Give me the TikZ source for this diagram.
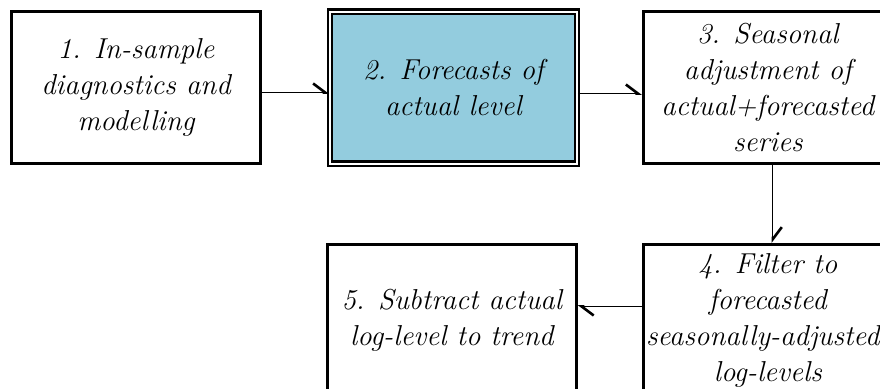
\documentclass[tikz,border=0pt]{standalone}
\usepackage{tikz}
\usetikzlibrary{arrows.meta,positioning}
\definecolor{fcblue}{RGB}{147,204,222}

\begin{document}
\begin{tikzpicture}[
  x=0.5pt, y=-0.5pt,
  node distance=39pt and 33.5pt,
  stage/.style={draw,line width=1.5pt,align=center,font=\Large\itshape,
    minimum width=124.5pt,minimum height=76pt,inner sep=2pt},
  keystage/.style={stage,line width=1.1pt,double,double distance=1pt,fill=fcblue,
    minimum width=123.3pt,minimum height=76pt},
  arr/.style={-{Straight Barb[left,length=6pt,width=9pt,line width=1.3pt]},line width=0.5pt}
]
  \useasboundingbox (0,0) rectangle (880,388);
  \node[stage] (insample) at (136,87.5) {1. In-sample\\diagnostics and\\modelling};
  \node[keystage,right=of insample] (fcast) {2. Forecasts of\\actual level};
  \node[stage,right=32pt of fcast] (sadj) {3. Seasonal\\adjustment of\\actual+forecasted\\series};
  \node[stage,below=of sadj] (filt) {4. Filter to\\forecasted\\\hspace*{-5pt}seasonally-adjusted\\log-levels};
  \node[stage,left=32pt of filt] (trend) {5. Subtract actual\\log-level to trend};
  \draw[arr] ([yshift=-2.5pt]insample.east) -- ([yshift=-2.5pt]insample.east -| fcast.west);
  \draw[arr] ([yshift=-3pt]fcast.east) -- ([yshift=-3pt]fcast.east -| sadj.west);
  \draw[arr] ([xshift=2.5pt]sadj.south) -- ([xshift=2.5pt]sadj.south |- filt.north);
  \draw[arr] ([yshift=7pt]filt.west) -- ([yshift=7pt]filt.west -| trend.east);
\end{tikzpicture}
\end{document}
